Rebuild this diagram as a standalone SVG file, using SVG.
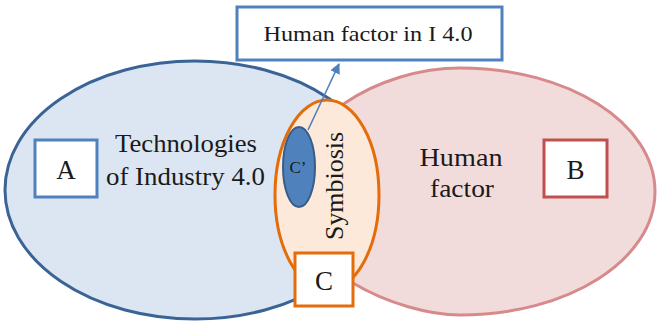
<svg xmlns="http://www.w3.org/2000/svg" width="657" height="326" viewBox="0 0 657 326">
<defs>
<style>
.t{font-family:"Liberation Serif","Times New Roman",serif;fill:#1a1a1a;text-anchor:middle}
.box{fill:#ffffff;stroke-width:3}
</style>
<marker id="ah" viewBox="0 0 10 10" refX="9" refY="5" markerWidth="6.5" markerHeight="6.5" orient="auto" markerUnits="strokeWidth">
<path d="M0,0 L10,5 L0,10 z" fill="#4f81bd"/>
</marker>
</defs>
<rect width="657" height="326" fill="#ffffff"/>
<g id="tech">
<ellipse cx="195" cy="190" rx="190" ry="129" fill="#dce6f2" stroke="#3a6496" stroke-width="3"/>
</g>
<g id="human">
<path d="M460,68 C568,68 655,123 655,191.5 C655,260 568,315 460,315 C400,315 290,270 290,192 C290,120 380,68 460,68 Z" fill="#f2dcdb" stroke="#d68a8c" stroke-width="3"/>
</g>
<g id="symbiosis">
<ellipse cx="327" cy="195" rx="52" ry="95" fill="#fde9d9" stroke="#e46c0a" stroke-width="3"/>
<text class="t" transform="translate(343,186) rotate(-90)" font-size="25" textLength="108" lengthAdjust="spacingAndGlyphs">Symbiosis</text>
</g>
<g id="cprime">
<ellipse cx="299" cy="167" rx="16" ry="40" fill="#4f81bd" stroke="#385d8a" stroke-width="2"/>
<text class="t" x="298" y="173" font-size="17">C’</text>
</g>
<g id="labelTech">
<text class="t" x="186" y="152" font-size="26" textLength="142" lengthAdjust="spacingAndGlyphs">Technologies</text>
<text class="t" x="185.5" y="185" font-size="26" textLength="159" lengthAdjust="spacingAndGlyphs">of Industry 4.0</text>
</g>
<g id="labelHuman">
<text class="t" x="461" y="166" font-size="26" textLength="83" lengthAdjust="spacingAndGlyphs">Human</text>
<text class="t" x="462" y="197" font-size="26" textLength="64" lengthAdjust="spacingAndGlyphs">factor</text>
</g>
<g id="boxA">
<rect class="box" x="35" y="140" width="62" height="57" stroke="#4f81bd"/>
<text class="t" x="66" y="179" font-size="27">A</text>
</g>
<g id="boxB">
<rect class="box" x="544" y="140" width="63" height="57" stroke="#c0504d"/>
<text class="t" x="575.5" y="179" font-size="27">B</text>
</g>
<g id="boxC">
<rect class="box" x="295" y="253" width="58" height="53" stroke="#e46c0a"/>
<text class="t" x="324" y="290" font-size="27">C</text>
</g>
<g id="boxTop">
<rect class="box" x="237" y="7" width="265" height="53" stroke="#4f81bd"/>
<text class="t" x="368" y="41" font-size="22" textLength="209" lengthAdjust="spacingAndGlyphs">Human factor in I 4.0</text>
</g>
<g id="connectors">
<line x1="308" y1="130" x2="339" y2="64" stroke="#4f81bd" stroke-width="1.6" marker-end="url(#ah)"/>
</g>
</svg>
